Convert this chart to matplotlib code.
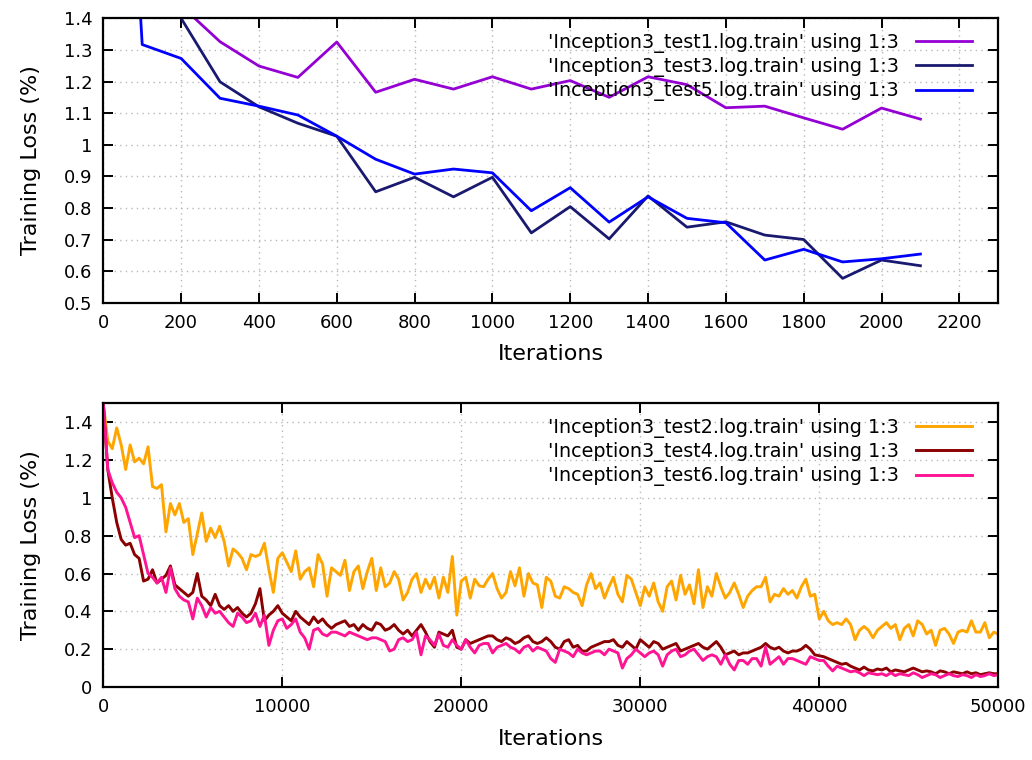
import numpy as np
import matplotlib
matplotlib.use("Agg")
import matplotlib.pyplot as plt
from matplotlib.ticker import FormatStrFormatter

plt.rcParams.update({
    "font.family": ["DejaVu Sans"],
    "font.size": 12,
    "axes.linewidth": 1.6,
})

# ---- top panel: loss every 100 iterations ----
iters_short = [0, 100, 200, 300, 400, 500, 600, 700, 800, 900, 1000,
               1100, 1200, 1300, 1400, 1500, 1600, 1700, 1800, 1900, 2000, 2100]
loss_test1 = [3.6, 2.0, 1.44, 1.326, 1.249, 1.213, 1.325, 1.166, 1.207, 1.176, 1.215,
              1.176, 1.203, 1.150, 1.215, 1.19, 1.117, 1.122, 1.085, 1.049, 1.116, 1.081]
loss_test3 = [3.8, 2.2, 1.40, 1.199, 1.12, 1.068, 1.027, 0.851, 0.897, 0.835, 0.897,
              0.721, 0.804, 0.702, 0.838, 0.739, 0.756, 0.714, 0.700, 0.577, 0.635, 0.617]
loss_test5 = [3.4, 1.317, 1.273, 1.147, 1.122, 1.094, 1.027, 0.954, 0.907, 0.923, 0.911,
              0.791, 0.864, 0.755, 0.835, 0.767, 0.753, 0.635, 0.669, 0.629, 0.639, 0.654]

# ---- bottom panel: loss every 250 iterations, 0 .. 50000 ----
iters_long = np.arange(0, 50001, 250)
loss_test2 = [
    1.50, 1.30, 1.26, 1.37, 1.28, 1.15, 1.28, 1.19, 1.21, 1.18,
    1.27, 1.06, 1.05, 1.07, 0.82, 0.97, 0.91, 0.97, 0.87, 0.89,
    0.70, 0.81, 0.92, 0.77, 0.84, 0.79, 0.85, 0.77, 0.64, 0.73,
    0.71, 0.68, 0.62, 0.70, 0.69, 0.70, 0.76, 0.62, 0.50, 0.68,
    0.71, 0.66, 0.61, 0.72, 0.57, 0.61, 0.63, 0.53, 0.70, 0.65,
    0.48, 0.63, 0.61, 0.59, 0.67, 0.51, 0.61, 0.64, 0.52, 0.61,
    0.68, 0.51, 0.63, 0.53, 0.55, 0.61, 0.57, 0.46, 0.50, 0.57,
    0.60, 0.50, 0.57, 0.52, 0.58, 0.47, 0.58, 0.50, 0.69, 0.38,
    0.56, 0.58, 0.47, 0.57, 0.535, 0.53, 0.57, 0.60, 0.52, 0.47,
    0.50, 0.61, 0.535, 0.63, 0.48, 0.60, 0.55, 0.54, 0.42, 0.58,
    0.56, 0.48, 0.47, 0.53, 0.52, 0.50, 0.49, 0.43, 0.54, 0.60,
    0.52, 0.55, 0.47, 0.53, 0.58, 0.49, 0.45, 0.59, 0.57, 0.50,
    0.43, 0.53, 0.48, 0.55, 0.45, 0.40, 0.53, 0.56, 0.46, 0.59,
    0.49, 0.54, 0.44, 0.62, 0.42, 0.53, 0.48, 0.60, 0.53, 0.47,
    0.50, 0.55, 0.49, 0.42, 0.48, 0.51, 0.53, 0.53, 0.58, 0.45,
    0.49, 0.48, 0.52, 0.49, 0.51, 0.47, 0.53, 0.57, 0.48, 0.49,
    0.36, 0.40, 0.35, 0.33, 0.34, 0.33, 0.36, 0.33, 0.25, 0.30,
    0.32, 0.30, 0.26, 0.30, 0.32, 0.34, 0.31, 0.33, 0.25, 0.31,
    0.33, 0.27, 0.35, 0.33, 0.28, 0.30, 0.22, 0.30, 0.31, 0.28,
    0.23, 0.29, 0.30, 0.29, 0.35, 0.29, 0.29, 0.34, 0.26, 0.29,
    0.28,
]
loss_test4 = [
    1.50, 1.15, 1.00, 0.87, 0.78, 0.75, 0.76, 0.70, 0.68, 0.56,
    0.57, 0.62, 0.55, 0.57, 0.59, 0.64, 0.54, 0.52, 0.50, 0.48,
    0.50, 0.60, 0.48, 0.46, 0.43, 0.49, 0.43, 0.41, 0.43, 0.40,
    0.42, 0.39, 0.37, 0.39, 0.44, 0.52, 0.35, 0.38, 0.40, 0.43,
    0.39, 0.37, 0.35, 0.40, 0.37, 0.35, 0.33, 0.37, 0.34, 0.36,
    0.33, 0.31, 0.33, 0.34, 0.35, 0.32, 0.33, 0.30, 0.33, 0.31,
    0.30, 0.34, 0.33, 0.30, 0.31, 0.33, 0.30, 0.28, 0.30, 0.27,
    0.30, 0.33, 0.29, 0.24, 0.21, 0.29, 0.28, 0.27, 0.30, 0.21,
    0.20, 0.25, 0.23, 0.24, 0.25, 0.26, 0.27, 0.27, 0.25, 0.24,
    0.26, 0.25, 0.23, 0.24, 0.26, 0.27, 0.24, 0.23, 0.24, 0.26,
    0.24, 0.21, 0.20, 0.24, 0.25, 0.21, 0.22, 0.19, 0.19, 0.21,
    0.22, 0.23, 0.24, 0.24, 0.25, 0.22, 0.21, 0.24, 0.22, 0.20,
    0.25, 0.23, 0.21, 0.24, 0.23, 0.20, 0.21, 0.22, 0.23, 0.19,
    0.20, 0.21, 0.22, 0.23, 0.21, 0.20, 0.22, 0.24, 0.21, 0.17,
    0.18, 0.19, 0.17, 0.18, 0.18, 0.19, 0.20, 0.21, 0.23, 0.21,
    0.20, 0.21, 0.19, 0.18, 0.19, 0.19, 0.20, 0.22, 0.20, 0.17,
    0.165, 0.16, 0.15, 0.14, 0.13, 0.12, 0.125, 0.11, 0.10, 0.09,
    0.105, 0.09, 0.085, 0.095, 0.09, 0.10, 0.08, 0.09, 0.085, 0.08,
    0.09, 0.10, 0.09, 0.08, 0.085, 0.08, 0.07, 0.085, 0.08, 0.07,
    0.08, 0.075, 0.07, 0.08, 0.07, 0.075, 0.065, 0.07, 0.075, 0.07,
    0.07,
]
loss_test6 = [
    1.50, 1.15, 1.08, 1.03, 1.00, 0.95, 0.87, 0.79, 0.80, 0.70,
    0.60, 0.58, 0.55, 0.58, 0.50, 0.63, 0.52, 0.48, 0.46, 0.45,
    0.36, 0.47, 0.43, 0.37, 0.42, 0.39, 0.40, 0.37, 0.34, 0.32,
    0.39, 0.37, 0.34, 0.35, 0.39, 0.32, 0.38, 0.22, 0.30, 0.35,
    0.36, 0.31, 0.33, 0.36, 0.29, 0.26, 0.20, 0.30, 0.31, 0.28,
    0.27, 0.29, 0.29, 0.28, 0.27, 0.29, 0.28, 0.27, 0.26, 0.25,
    0.26, 0.26, 0.25, 0.24, 0.19, 0.20, 0.25, 0.26, 0.24, 0.25,
    0.29, 0.17, 0.27, 0.25, 0.22, 0.28, 0.22, 0.21, 0.25, 0.22,
    0.20, 0.25, 0.21, 0.18, 0.22, 0.23, 0.23, 0.18, 0.21, 0.22,
    0.23, 0.21, 0.20, 0.18, 0.21, 0.22, 0.19, 0.21, 0.20, 0.19,
    0.15, 0.13, 0.20, 0.19, 0.18, 0.16, 0.20, 0.18, 0.17, 0.18,
    0.19, 0.19, 0.17, 0.20, 0.19, 0.18, 0.10, 0.15, 0.17, 0.20,
    0.18, 0.16, 0.18, 0.19, 0.17, 0.11, 0.17, 0.19, 0.20, 0.16,
    0.17, 0.19, 0.20, 0.17, 0.14, 0.16, 0.17, 0.16, 0.12, 0.17,
    0.12, 0.09, 0.14, 0.14, 0.12, 0.15, 0.15, 0.11, 0.21, 0.12,
    0.14, 0.16, 0.12, 0.15, 0.15, 0.14, 0.13, 0.12, 0.16, 0.15,
    0.14, 0.14, 0.11, 0.085, 0.11, 0.10, 0.09, 0.08, 0.085, 0.075,
    0.06, 0.075, 0.07, 0.065, 0.07, 0.06, 0.075, 0.06, 0.07, 0.065,
    0.06, 0.075, 0.065, 0.05, 0.06, 0.07, 0.065, 0.05, 0.06, 0.07,
    0.06, 0.055, 0.065, 0.06, 0.05, 0.065, 0.055, 0.06, 0.07, 0.06,
    0.065,
]

top_series = [
    ("'Inception3_test1.log.train' using 1:3", loss_test1, "#9400d3"),
    ("'Inception3_test3.log.train' using 1:3", loss_test3, "#191970"),
    ("'Inception3_test5.log.train' using 1:3", loss_test5, "#0000ff"),
]
bottom_series = [
    ("'Inception3_test2.log.train' using 1:3", loss_test2, "#ffa500"),
    ("'Inception3_test4.log.train' using 1:3", loss_test4, "#8b0000"),
    ("'Inception3_test6.log.train' using 1:3", loss_test6, "#ff1493"),
]


def style_axes(ax):
    ax.grid(True, color="#b8b8b8", linestyle=(0, (1, 3)), linewidth=1.0)
    ax.tick_params(direction="in", top=True, right=True, length=7, width=1.4,
                   labelsize=13, pad=8, colors="black")
    ax.yaxis.set_major_formatter(FormatStrFormatter("%g"))
    ax.set_xlabel("Iterations", fontsize=16, labelpad=9)
    ax.set_ylabel("Training Loss (%)", fontsize=16, labelpad=16)
    ax.legend(loc="upper right", bbox_to_anchor=(0.978, 0.972), frameon=False,
              markerfirst=False, fontsize=13.8, handlelength=2.9,
              labelspacing=0.22, borderaxespad=0.0, handletextpad=0.9,
              borderpad=0.35)


fig = plt.figure(figsize=(10.32, 7.6), dpi=100)

ax1 = fig.add_axes([0.1001, 0.6017, 0.8672, 0.3742])
for label, vals, color in top_series:
    ax1.plot(iters_short, vals, color=color, lw=2.0, label=label)
ax1.set_xlim(0, 2300)
ax1.set_ylim(0.5, 1.4)
ax1.set_xticks(np.arange(0, 2201, 200))
ax1.set_yticks(np.arange(0.5, 1.41, 0.1))
style_axes(ax1)

ax2 = fig.add_axes([0.1001, 0.0961, 0.8672, 0.3732])
for label, vals, color in bottom_series:
    ax2.plot(iters_long, vals, color=color, lw=2.1, label=label)
ax2.set_xlim(0, 50000)
ax2.set_ylim(0, 1.5)
ax2.set_xticks(np.arange(0, 50001, 10000))
ax2.set_yticks(np.arange(0, 1.41, 0.2))
style_axes(ax2)

fig.savefig("out.png", dpi=100)
